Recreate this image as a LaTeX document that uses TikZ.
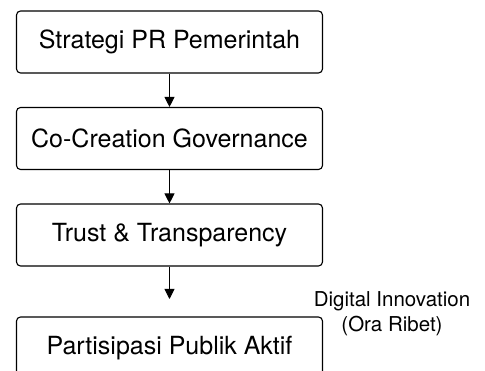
\documentclass[tikz,border=0pt]{standalone}
\usepackage{fontspec}
\setmainfont{TeX Gyre Heros}
\usetikzlibrary{arrows.meta}

\begin{document}
\begin{tikzpicture}[x=1pt,y=-1pt,
	stagebox/.style={shape=rectangle,draw=black,line width=1.1pt,rounded corners=4pt,
		minimum width=306pt,minimum height=62pt,inner sep=0pt,
		font=\fontsize{25}{29}\selectfont},
	flow/.style={-{Triangle[width=10pt,length=10pt]},line width=0.9pt}]

	\clip (0,0) rectangle (485,371);

	\node[stagebox] (strategi)  at (169.5, 42)  {Strategi PR Pemerintah};
	\node[stagebox] (cocreate)  at (169.5, 138.5) {Co-Creation Governance};
	\node[stagebox] (trust)     at (169.5, 235) {Trust \& Transparency};
	\node[stagebox] (partisipasi) at (169.5, 348) {Partisipasi Publik Aktif};

	\coordinate (gap) at (169.5, 299);

	\node[align=center,font=\fontsize{20.5}{25}\selectfont] (digital) at (392, 314) {Digital Innovation\\(Ora Ribet)};

	\path[flow] (strategi) edge (cocreate);
	\path[flow] (cocreate) edge (trust);
	\path[flow] (trust) edge (gap);

\end{tikzpicture}
\end{document}
